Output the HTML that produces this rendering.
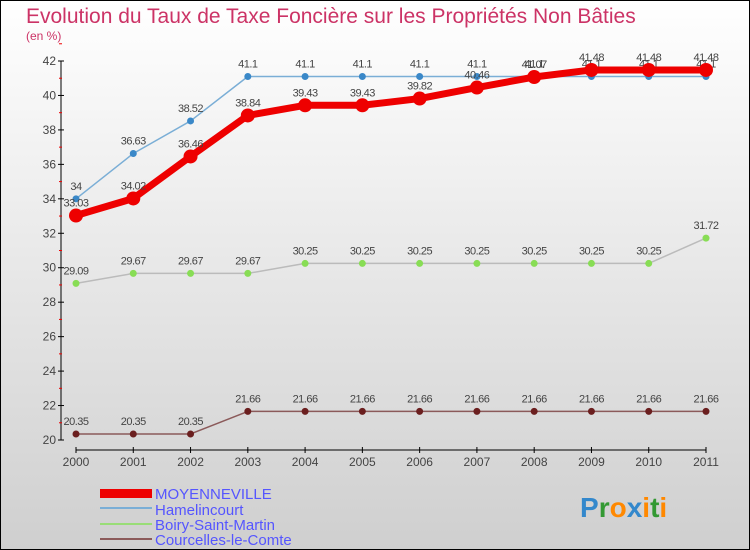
<!DOCTYPE html>
<html><head><meta charset="utf-8"><style>
body{margin:0}
#wrap{width:750px;height:550px;position:relative;overflow:hidden}
svg text{font-family:"Liberation Sans",sans-serif}
</style></head><body>
<div id="wrap">
<svg id="c" width="750" height="550">
<defs><linearGradient id="bg" x1="0" y1="0" x2="0" y2="1"><stop offset="0" stop-color="#ffffff"/><stop offset="1" stop-color="#cfcfcf"/></linearGradient></defs>
<rect x="0.5" y="0.5" width="749" height="549" fill="url(#bg)" stroke="#000"/>
<text x="26" y="23" font-size="21" fill="#cc3366">Evolution du Taux de Taxe Foncière sur les Propriétés Non Bâties</text>
<text x="26" y="40" font-size="12" fill="#cc3366">(en %)</text>
<g id="axes"></g><g id="series"></g>
<g>
<rect x="100" y="489" width="52" height="9" fill="#e00"/>
<text x="155" y="499" font-size="15" fill="#5555ff">MOYENNEVILLE</text>
<rect x="100" y="507" width="52" height="2" fill="#7aaed6"/>
<text x="155" y="515" font-size="15" fill="#5555ff">Hamelincourt</text>
<rect x="100" y="523" width="52" height="2" fill="#99dd77"/>
<text x="155" y="530" font-size="15" fill="#5555ff">Boiry-Saint-Martin</text>
<rect x="100" y="538" width="52" height="2" fill="#8b5a5a"/>
<text x="155" y="545" font-size="15" fill="#5555ff">Courcelles-le-Comte</text>
</g>
<text x="580" y="517" font-size="28" font-weight="bold"><tspan fill="#3388cc">P</tspan><tspan fill="#339933">r</tspan><tspan fill="#ff8800">o</tspan><tspan fill="#3388cc">x</tspan><tspan fill="#ff8800">i</tspan><tspan fill="#339933">t</tspan><tspan fill="#ff8800">i</tspan></text>
</svg></div>
<script>
const years=[2000,2001,2002,2003,2004,2005,2006,2007,2008,2009,2010,2011];
const moyenneville=[33.03,34.02,36.46,38.84,39.43,39.43,39.82,40.46,41.07,41.48,41.48,41.48];
const hamelincourt=[34,36.63,38.52,41.1,41.1,41.1,41.1,41.1,41.1,41.1,41.1,41.1];
const boiry=[29.09,29.67,29.67,29.67,30.25,30.25,30.25,30.25,30.25,30.25,30.25,31.72];
const courcelles=[20.35,20.35,20.35,21.66,21.66,21.66,21.66,21.66,21.66,21.66,21.66,21.66];
const yTicks=[20,22,24,26,28,30,32,34,36,38,40,42];
const NS="http://www.w3.org/2000/svg";
const xS=i=>76+i*(706-76)/11;
const yS=v=>440-(v-20)*(440-61)/22;
function mk(t,a,p){const e=document.createElementNS(NS,t);for(const k in a)e.setAttribute(k,a[k]);p.appendChild(e);return e;}
const ax=document.getElementById('axes');
const yl=mk('line',{x1:61,y1:61,x2:61,y2:440,stroke:'#000','stroke-width':1},ax);


const xl=mk('line',{x1:76,y1:450,x2:706,y2:450,stroke:'#000','stroke-width':1},ax);


yTicks.forEach(v=>{
 mk('line',{x1:58,x2:64,y1:yS(v),y2:yS(v),stroke:'#000'},ax);
 mk('line',{x1:59,x2:62,y1:yS(v+1),y2:yS(v+1),stroke:'#e00'},ax);
 const t=mk('text',{x:56,y:yS(v)+4,'font-size':12,'text-anchor':'end',fill:'#444'},ax);
 t.textContent=v;
 
 
});
years.forEach((y,i)=>{
 mk('line',{x1:xS(i),x2:xS(i),y1:447,y2:453,stroke:'#000'},ax);
 const t=mk('text',{x:xS(i),y:466,'font-size':12,'text-anchor':'middle',fill:'#444'},ax);
 t.textContent=y;
 
 
});
const sg=document.getElementById('series');
function series(name,data,color,w,r,dot){
 const g=mk('g',{},sg);
 
 
 const pl=mk('polyline',{points:data.map((v,i)=>xS(i)+','+yS(v)).join(' '),fill:'none',stroke:color,'stroke-width':w,'stroke-linejoin':'round'},g);
 
 
 data.forEach((v,i)=>{
  const c=mk('circle',{cx:xS(i),cy:yS(v),r:r,fill:dot},g);
  
  
  const t=mk('text',{x:xS(i),y:yS(v)-9,'font-size':11,'text-anchor':'middle',fill:'#444','letter-spacing':'-0.5'},g);
  t.textContent=v;
  
  
 });
}
series('courcelles',courcelles,'#8b5a5a',1.5,3.5,'#6b1f1f');
series('boiry',boiry,'#bbbbbb',1.5,3.5,'#88dd55');
series('hamelincourt',hamelincourt,'#7aaed6',1.5,3.5,'#3a88c8');
series('moyenneville',moyenneville,'#e00',7,7,'#e00');
</script>
</body></html>
